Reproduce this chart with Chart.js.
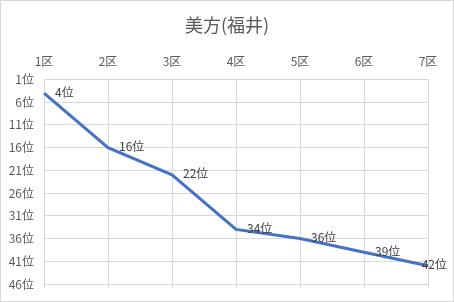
<!DOCTYPE html>
<html>
<head>
<meta charset="utf-8">
<script src="https://cdn.jsdelivr.net/npm/chart.js@4/dist/chart.umd.min.js"></script>
<style>
  html, body { margin: 0; padding: 0; background: #fff; }
  #wrap { width: 454px; height: 302px; }
</style>
</head>
<body>
<div id="wrap"><canvas id="c" width="454" height="302"></canvas></div>
<script>
// 区間ごとの順位
const sections = ["1区", "2区", "3区", "4区", "5区", "6区", "7区"];
const ranks = [4, 16, 22, 34, 36, 39, 42];
const rankTicks = [1, 6, 11, 16, 21, 26, 31, 36, 41, 46];
const titleText = "美方(福井)";

const FONT = "'Noto Sans CJK JP', 'Noto Sans', sans-serif";

// 外枠とタイトル(キャンバス中央に配置)
const frame = {
  id: "frame",
  afterDraw(chart) {
    const ctx = chart.ctx;
    ctx.save();
    ctx.strokeStyle = "#d9d9d9";
    ctx.lineWidth = 1;
    ctx.strokeRect(0.5, 0.5, chart.width - 1, chart.height - 1);
    ctx.font = "18px " + FONT;
    ctx.fillStyle = "#595959";
    ctx.textAlign = "center";
    ctx.textBaseline = "middle";
    ctx.fillText(titleText, chart.width / 2, 25);
    ctx.restore();
  }
};

// データラベル
const pointLabels = {
  id: "pointLabels",
  afterDatasetsDraw(chart) {
    const ctx = chart.ctx;
    const meta = chart.getDatasetMeta(0);
    ctx.save();
    ctx.font = "12px " + FONT;
    ctx.fillStyle = "#404040";
    ctx.textBaseline = "middle";
    ctx.textAlign = "left";
    meta.data.forEach((pt, i) => {
      const txt = ranks[i] + "位";
      const w = ctx.measureText(txt).width;
      const x = Math.min(pt.x + 11, chart.width - 7 - w);
      ctx.fillText(txt, x, pt.y - 1);
    });
    ctx.restore();
  }
};

new Chart(document.getElementById("c"), {
  type: "line",
  data: {
    labels: sections,
    datasets: [{
      data: ranks,
      borderColor: "#4472c4",
      borderWidth: 3,
      pointRadius: 0,
      tension: 0,
      fill: false
    }]
  },
  options: {
    responsive: false,
    animation: false,
    layout: { padding: { left: 0, right: 26, top: 43, bottom: 14 } },
    plugins: {
      legend: { display: false },
      tooltip: { enabled: false },
      title: { display: false }
    },
    scales: {
      x: {
        type: "category",
        position: "top",
        offset: false,
        grid: { color: "#d9d9d9", drawTicks: false, offset: false },
        border: { display: false },
        ticks: {
          color: "#595959",
          font: { family: FONT, size: 12 },
          padding: 11,
          maxRotation: 0,
          autoSkip: false
        }
      },
      x2: {
        type: "category",
        position: "bottom",
        offset: false,
        grid: { color: "#d9d9d9", drawOnChartArea: false, drawTicks: true, tickLength: 4, offset: false },
        border: { display: false },
        ticks: { display: false }
      },
      y: {
        reverse: true,
        min: 1,
        max: 46,
        afterBuildTicks(axis) {
          axis.ticks = rankTicks.map(v => ({ value: v }));
        },
        afterFit(axis) {
          axis.width = 44;
        },
        grid: { color: "#d9d9d9", drawTicks: false },
        border: { display: false },
        ticks: {
          color: "#595959",
          font: { family: FONT, size: 12 },
          padding: 10,
          callback: v => v + "位"
        }
      }
    }
  },
  plugins: [frame, pointLabels]
});
</script>
</body>
</html>
